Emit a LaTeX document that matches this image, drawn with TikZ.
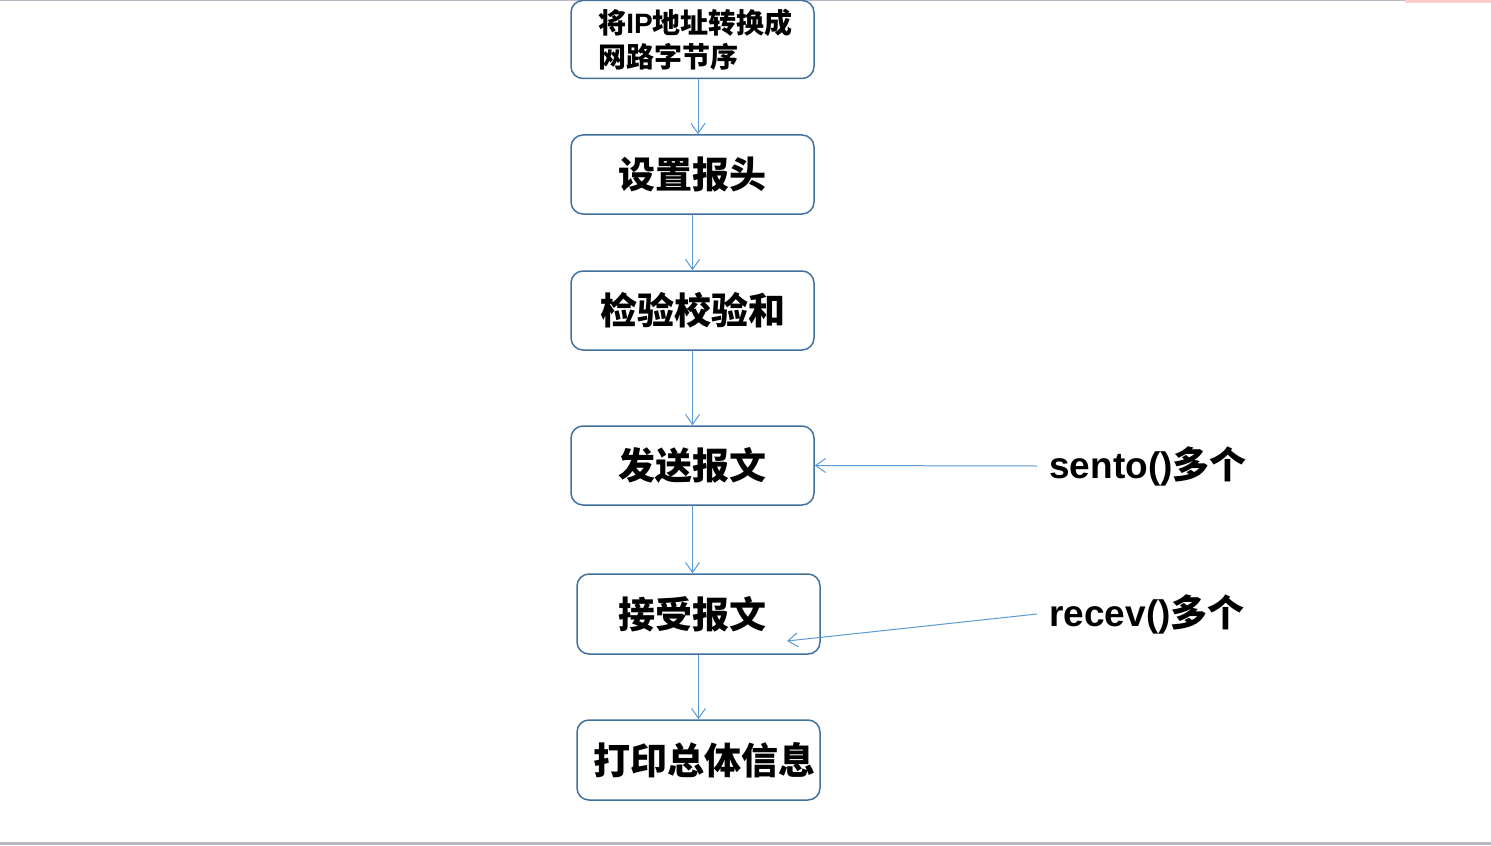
\documentclass[tikz,border=0pt]{standalone}
\usepackage{fontspec}
\setmainfont{Liberation Sans}
\newfontfamily\cjk{Noto Sans CJK SC}
\usetikzlibrary{arrows.meta}
\definecolor{boxc}{RGB}{65,113,156}
\definecolor{arrc}{RGB}{91,155,213}
\definecolor{edgegray}{RGB}{183,185,196}
\definecolor{edgepink}{RGB}{255,205,205}
\begin{document}
\begin{tikzpicture}[x=0.5pt,y=-0.5pt,
  stepbox/.style={draw=boxc,line width=0.75pt,rounded corners=6pt,minimum width=121.5pt,minimum height=39.5pt,inner sep=0pt,font=\cjk\bfseries\fontsize{18.5}{22}\selectfont},
  flow/.style={draw=arrc,line width=0.5pt,-{Straight Barb[length=5pt,width=7pt]}},
  lab/.style={anchor=west,inner sep=0pt,font=\bfseries\fontsize{18.5}{22}\selectfont}]
\useasboundingbox (0,0) rectangle (1491,845);
\fill[white] (0,0) rectangle (1491,845);
\fill[edgegray] (0,0) rectangle (1405,1.5);
\fill[edgepink] (1405,0) rectangle (1491,3);
\fill[edgegray] (0,842) rectangle (1491,845);

\node[stepbox,minimum height=39pt,align=left,font=\cjk\bfseries\fontsize{14}{17}\selectfont] (b1) at (692.5,39.5) {\hspace*{3pt}将{\rmfamily IP}地址转换成\\\hspace*{3pt}网路字节序};
\node[stepbox] (b2) at (692.5,174.5) {设置报头};
\node[stepbox] (b3) at (692.5,310.5) {检验校验和};
\node[stepbox] (b4) at (692.5,465.5) {发送报文};
\node[stepbox,minimum height=40pt] (b5) at (698.5,614) {接受报文\hspace*{6pt}};
\node[stepbox,minimum height=40pt] (b6) at (698.5,760) {\hspace*{5.5pt}打印总体信息};

\node[lab] (s) at (1049,466) {sento(){\cjk 多个}};
\node[lab] (r) at (1049,614) {recev(){\cjk 多个}};
\coordinate (rend) at ([xshift=44.25pt,yshift=-13.5pt]b5.center);

\draw[flow] ([xshift=2.75pt]b1.south) -- ([xshift=2.75pt]b2.north);
\draw[flow] (b2.south) -- (b3.north);
\draw[flow] (b3.south) -- (b4.north);
\draw[flow] (b4.south) -- (b4.south |- b5.north);
\draw[flow] (b5.south) -- (b6.north);
\draw[flow] ([xshift=-6pt]s.west) -- (b4.east);
\draw[flow] ([xshift=-6pt]r.west) -- (rend);
\end{tikzpicture}
\end{document}
